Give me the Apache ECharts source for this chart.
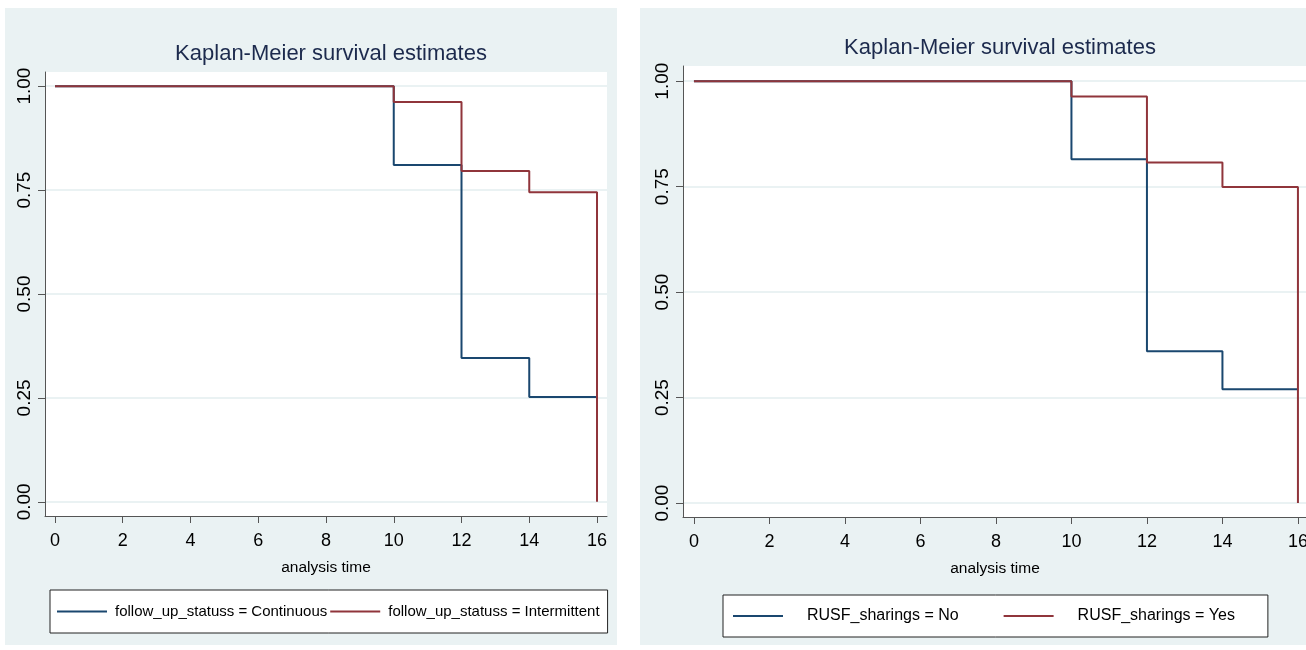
<!DOCTYPE html>
<html>
<head>
<meta charset="utf-8">
<script src="https://cdn.jsdelivr.net/npm/echarts@6/dist/echarts.min.js"></script>
<style>
  body { margin: 0; background: #fff; overflow: hidden; width: 1306px; height: 650px; position: relative; }
  .panel { position: absolute; }
</style>
</head>
<body>
<div id="divLeft" class="panel" style="left:5px; top:8px; width:612px; height:637px;"></div>
<div id="divRight" class="panel" style="left:640px; top:8px; width:680px; height:637px;"></div>
<script>
// analysis time at which the survival estimate steps
var times = [0, 10, 12, 14, 16];
var xTicks = [0, 2, 4, 6, 8, 10, 12, 14, 16];
var yTicks = [0, 0.25, 0.5, 0.75, 1];

var titleText = 'Kaplan-Meier survival estimates';

// left panel: follow_up_statuss
var leftNames = ['follow_up_statuss = Continuous', 'follow_up_statuss = Intermittent'];
var leftContinuous = [1, 0.81, 0.346, 0.252, 0.252];
var leftIntermittent = [1, 0.962, 0.796, 0.745, 0];

// right panel: RUSF_sharings
var rightNames = ['RUSF_sharings = No', 'RUSF_sharings = Yes'];
var rightNo = [1, 0.815, 0.36, 0.27, 0.27];
var rightYes = [1, 0.964, 0.807, 0.749, 0];

var blue = '#1a476f';
var red = '#90353b';
var font = '"Liberation Sans", Arial, sans-serif';

function pairs(xs, ys) {
    var out = [];
    for (var i = 0; i < xs.length; i++) out.push([xs[i], ys[i]]);
    return out;
}

function km_init(domId, p) {
    var chart = echarts.init(document.getElementById(domId));
    var option = {
        backgroundColor: '#eaf2f3',
        animation: false,
        title: {
            text: titleText,
            left: p.titleX,
            top: p.titleTop,
            textAlign: 'center',
            textStyle: { fontFamily: font, fontSize: 22, fontWeight: 'normal', color: '#1c2a4d' }
        },
        legend: {
            left: p.legendLeft,
            top: p.legendTop,
            width: 900,
            backgroundColor: '#fff',
            borderColor: '#222',
            borderWidth: 1,
            padding: p.legendPadding,
            itemGap: p.legendGap,
            itemWidth: 50,
            itemHeight: 2,
            icon: 'rect',
            textStyle: { fontFamily: font, fontSize: p.legendFont, color: '#000', padding: p.legendTextPad },
            data: p.names
        },
        grid: {
            left: p.gridLeft,
            top: p.gridTop,
            width: p.gridWidth,
            height: p.gridHeight,
            backgroundColor: '#fff',
            show: true,
            borderWidth: 0,
            containLabel: false
        },
        xAxis: {
            type: 'value',
            min: p.xMin,
            max: p.xMax,
            name: 'analysis time',
            nameLocation: 'middle',
            nameGap: 44,
            nameTextStyle: { fontFamily: font, fontSize: 15.5, color: '#000' },
            axisLine: { show: true, onZero: false, lineStyle: { color: '#555', width: 1 } },
            axisTick: { show: true, length: 7, customValues: xTicks, lineStyle: { color: '#555' } },
            axisLabel: { customValues: xTicks, margin: 16, fontFamily: font, fontSize: 18, color: '#000' },
            splitLine: { show: false }
        },
        yAxis: {
            type: 'value',
            min: p.yMin,
            max: p.yMax,
            axisLine: { show: true, onZero: false, lineStyle: { color: '#555', width: 1 } },
            axisTick: { show: true, length: 7, customValues: yTicks, lineStyle: { color: '#555' } },
            axisLabel: {
                customValues: yTicks,
                rotate: 90,
                margin: 11,
                fontFamily: font,
                fontSize: 19,
                color: '#000',
                formatter: function (v) { return v.toFixed(2); }
            },
            splitLine: { show: true, lineStyle: { color: '#eaf2f3', width: 2 } }
        },
        series: [
            {
                name: p.names[0],
                type: 'line',
                step: 'end',
                symbol: 'none',
                color: blue,
                lineStyle: { width: 2, color: blue },
                data: pairs(times, p.a)
            },
            {
                name: p.names[1],
                type: 'line',
                step: 'end',
                symbol: 'none',
                color: red,
                lineStyle: { width: 2, color: red },
                data: pairs(times, p.b)
            }
        ]
    };
    chart.setOption(option);
    return chart;
}

km_init('divLeft', {
    names: leftNames, a: leftContinuous, b: leftIntermittent,
    titleX: 321, titleTop: 30,
    legendLeft: 45, legendTop: 582, legendPadding: [14, 8, 14, 7], legendGap: 3, legendFont: 15, legendTextPad: [0, 0, 0, 3],
    gridLeft: 40, gridTop: 64, gridWidth: 562, gridHeight: 444,
    xMin: -0.295, xMax: 16.295, yMin: -0.034, yMax: 1.034
});

km_init('divRight', {
    names: rightNames, a: rightNo, b: rightYes,
    titleX: 355, titleTop: 24,
    legendLeft: 83, legendTop: 587, legendPadding: [13, 33, 13, 10], legendGap: 45, legendFont: 16, legendTextPad: [0, 0, 0, 19],
    gridLeft: 43, gridTop: 58, gridWidth: 624, gridHeight: 451,
    xMin: -0.29, xMax: 16.24, yMin: -0.033, yMax: 1.036
});
</script>
</body>
</html>
